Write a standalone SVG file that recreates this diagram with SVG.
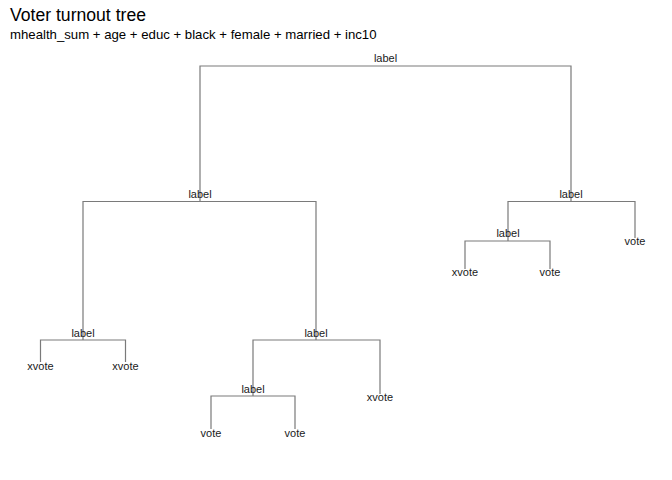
<svg xmlns="http://www.w3.org/2000/svg" width="672" height="480" viewBox="0 0 672 480">
<style>
.seg{fill:none;stroke:#7a7a7a;stroke-width:1.2}
.t{font-family:"Liberation Sans",Arial,sans-serif;font-size:11px;fill:#1a1a1a;text-anchor:middle}
.title{font-family:"Liberation Sans",Arial,sans-serif;font-size:17.6px;fill:#000}
.sub{font-family:"Liberation Sans",Arial,sans-serif;font-size:13.2px;fill:#000}
</style>
<rect width="672" height="480" fill="#fff"/>
<text class="title" x="10" y="21">Voter turnout tree</text>
<text class="sub" x="10" y="39">mhealth_sum + age + educ + black + female + married + inc10</text>
<g id="connectors">
<path class="seg" d="M200,201.5V66H571V201.5"/>
<path class="seg" d="M83,340V201.5H316V340"/>
<path class="seg" d="M508,241V201.5H635V238"/>
<path class="seg" d="M465,269V241H550V269"/>
<path class="seg" d="M40.5,362V340H125.5V362"/>
<path class="seg" d="M253,396V340H380V394"/>
<path class="seg" d="M211,429V396H295V429"/>
</g>
<g id="n-root"><text class="t" x="385.5" y="62">label</text></g>
<g id="n-L"><text class="t" x="200" y="197.5">label</text></g>
<g id="n-R"><text class="t" x="571" y="197.5">label</text></g>
<g id="n-RL"><text class="t" x="508" y="237">label</text></g>
<g id="n-RLL"><text class="t" x="465" y="276">xvote</text></g>
<g id="n-RLR"><text class="t" x="550" y="276">vote</text></g>
<g id="n-RR"><text class="t" x="635" y="245">vote</text></g>
<g id="n-LL"><text class="t" x="83" y="336.5">label</text></g>
<g id="n-LLL"><text class="t" x="40.5" y="370">xvote</text></g>
<g id="n-LLR"><text class="t" x="125.5" y="370">xvote</text></g>
<g id="n-LR"><text class="t" x="316" y="336.5">label</text></g>
<g id="n-LRL"><text class="t" x="253" y="392.5">label</text></g>
<g id="n-LRLL"><text class="t" x="211" y="437">vote</text></g>
<g id="n-LRLR"><text class="t" x="295" y="437">vote</text></g>
<g id="n-LRR"><text class="t" x="380" y="401">xvote</text></g>
</svg>
